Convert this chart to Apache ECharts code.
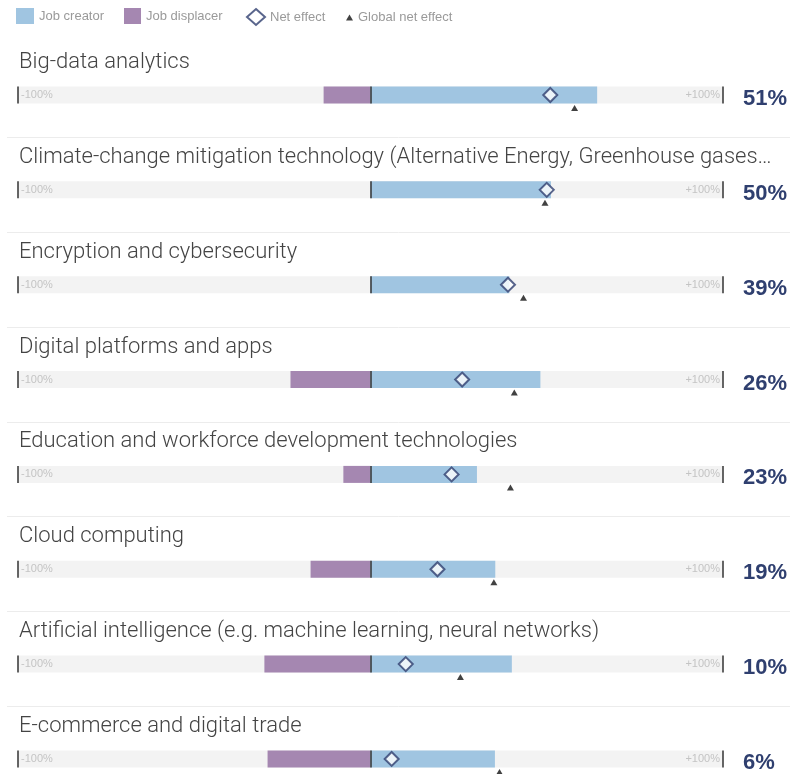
<!DOCTYPE html>
<html>
<head>
<meta charset="utf-8">
<script src="https://cdn.jsdelivr.net/npm/echarts@6/dist/echarts.min.js"></script>
<style>
  html, body { margin: 0; padding: 0; background: #fff; }
  #chart { width: 795px; height: 774px; }
</style>
</head>
<body>
<div id="chart"></div>
<script>
// technologies, top to bottom
const technologies = [
  'Big-data analytics',
  'Climate-change mitigation technology (Alternative Energy, Greenhouse gases\u2026',
  'Encryption and cybersecurity',
  'Digital platforms and apps',
  'Education and workforce development technologies',
  'Cloud computing',
  'Artificial intelligence (e.g. machine learning, neural networks)',
  'E-commerce and digital trade'
];
// values in % of companies
const jobCreator   = [64.3, 51.2, 39.4, 48.2, 30.2, 35.4, 40.1, 35.3];
const jobDisplacer = [-13.3, 0, 0, -22.7, -7.7, -17.0, -30.1, -29.2];
const netEffect    = [51, 50, 39, 26, 23, 19, 10, 6];
const globalNet    = [57.9, 49.5, 43.4, 40.8, 39.7, 35.0, 25.5, 36.6];
const rangeTicks   = [-100, 0, 100];

const BLUE = '#a0c5e1';
const PURPLE = '#a587b1';
const NAVY = '#2f3f6f';
const ROW_H = 94.85;
const BAR_TOP = 86.5;
const BAR_H = 17;

const chart = echarts.init(document.getElementById('chart'));

const grids = [], xAxes = [], yAxes = [], titles = [], series = [], lines = [];

technologies.forEach((name, i) => {
  const top = BAR_TOP + ROW_H * i;
  grids.push({ left: 18, right: 72, top: top, height: BAR_H });
  titles.push({
    text: name,
    left: 14,
    top: top - 40,
    textStyle: { fontFamily: 'Roboto', fontWeight: 300, fontSize: 22, color: '#444' }
  });
  xAxes.push({
    gridIndex: i, type: 'value', min: -100, max: 100, interval: 100, z: 10,
    axisLine: { show: false }, axisTick: { show: false }, splitLine: { show: false },
    axisLabel: {
      margin: -14, fontSize: 11, color: '#c4c4c4', fontFamily: 'Liberation Sans',
      alignMinLabel: 'left', alignMaxLabel: 'right',
      formatter: v => v === 0 ? '' : (v > 0 ? ' +' : ' ') + v + '% '
    }
  });
  yAxes.push({
    gridIndex: i, type: 'category', data: [netEffect[i] + '%'], position: 'right',
    axisLine: { show: false, onZero: false }, axisTick: { show: false },
    axisLabel: {
      margin: 20, fontSize: 22, fontWeight: 'bold', color: NAVY,
      fontFamily: 'Liberation Sans', verticalAlign: 'top', lineHeight: 8
    }
  });
  series.push({
    name: 'Job displacer', type: 'bar', xAxisIndex: i, yAxisIndex: i,
    data: [jobDisplacer[i]], barWidth: '100%', barGap: '-100%',
    showBackground: true, backgroundStyle: { color: '#f3f3f3' },
    itemStyle: { color: PURPLE },
    markLine: {
      silent: true, symbol: 'none', label: { show: false },
      lineStyle: { color: '#333', width: 1.5, type: 'solid' },
      data: rangeTicks.map(v => ({ xAxis: v }))
    }
  });
  series.push({
    name: 'Job creator', type: 'bar', xAxisIndex: i, yAxisIndex: i,
    data: [jobCreator[i]], barWidth: '100%', barGap: '-100%',
    itemStyle: { color: BLUE }
  });
  series.push({
    name: 'Net effect', type: 'scatter', xAxisIndex: i, yAxisIndex: i,
    data: [[netEffect[i], 0]], symbol: 'diamond', symbolSize: 14, clip: false, z: 5,
    itemStyle: { color: '#fff', borderColor: NAVY, borderWidth: 2 }
  });
  series.push({
    name: 'Global net effect', type: 'scatter', xAxisIndex: i, yAxisIndex: i,
    data: [[globalNet[i], 0]], symbol: 'triangle', symbolSize: [7, 6],
    symbolOffset: [0, 13], clip: false, z: 5,
    itemStyle: { color: '#111' }
  });
  if (i < technologies.length - 1) {
    const y = Math.round(top + 50.5) + 0.5;
    lines.push({
      type: 'line', silent: true,
      shape: { x1: 7, y1: y, x2: 790, y2: y },
      style: { stroke: '#ececec', lineWidth: 1 }
    });
  }
});

const legendBase = {
  top: 8, padding: 0, itemGap: 0,
  textStyle: { color: '#9a9a9a', fontSize: 13, fontFamily: 'Liberation Sans', padding: [0, 0, 0, 0] }
};

const option = {
  backgroundColor: '#fff',
  animation: false,
  title: titles,
  legend: [
    Object.assign({}, legendBase, { left: 16, data: ['Job creator'], itemWidth: 18, itemHeight: 16, icon: 'rect' }),
    Object.assign({}, legendBase, { left: 124, data: ['Job displacer'], itemWidth: 17, itemHeight: 16, icon: 'rect' }),
    Object.assign({}, legendBase, { left: 246, data: ['Net effect'], itemWidth: 18, itemHeight: 16 }),
    Object.assign({}, legendBase, { left: 346, top: 11, data: ['Global net effect'], itemWidth: 7, itemHeight: 6 })
  ],
  grid: grids,
  xAxis: xAxes,
  yAxis: yAxes,
  series: series,
  graphic: lines
};

chart.setOption(option);
</script>
</body>
</html>
